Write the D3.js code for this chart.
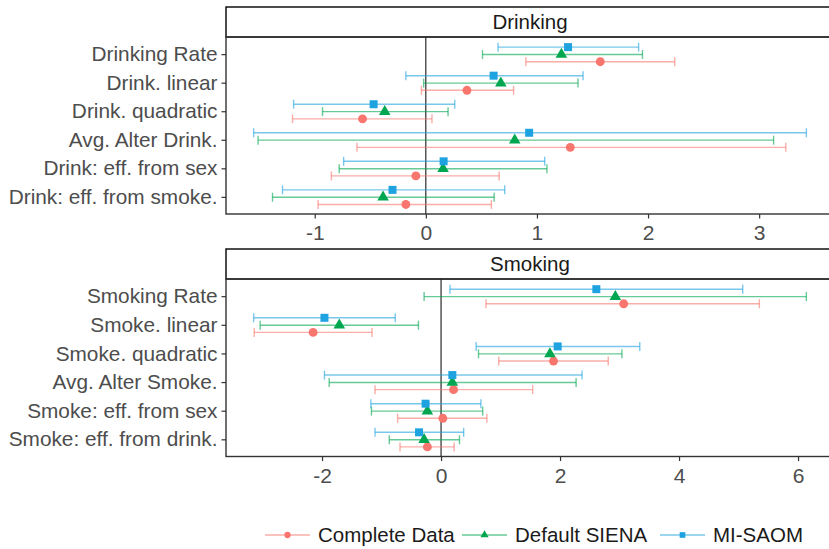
<!DOCTYPE html>
<html>
<head>
<meta charset="utf-8">
<script src="https://cdn.jsdelivr.net/npm/d3@7"></script>
<style>
body { margin: 0; background: #fff; }
text { font-family: "Liberation Sans", Arial, sans-serif; }
</style>
</head>
<body>
<script>
// categories, top to bottom
var drinkTerms = ["Drinking Rate", "Drink. linear", "Drink. quadratic", "Avg. Alter Drink.", "Drink: eff. from sex", "Drink: eff. from smoke."];
var smokeTerms = ["Smoking Rate", "Smoke. linear", "Smoke. quadratic", "Avg. Alter Smoke.", "Smoke: eff. from sex", "Smoke: eff. from drink."];
var methods = ["Complete Data", "Default SIENA", "MI-SAOM"];

// [estimate, lower, upper] per term
var drinkComplete = [[1.57, 0.90, 2.24], [0.37, -0.04, 0.79], [-0.57, -1.20, 0.055], [1.30, -0.62, 3.24], [-0.09, -0.85, 0.66], [-0.18, -0.97, 0.59]];
var drinkDefault  = [[1.22, 0.51, 1.95], [0.675, -0.02, 1.37], [-0.37, -0.93, 0.20], [0.80, -1.51, 3.13], [0.155, -0.78, 1.09], [-0.385, -1.38, 0.615]];
var drinkMI       = [[1.28, 0.65, 1.915], [0.61, -0.18, 1.415], [-0.47, -1.19, 0.26], [0.93, -1.55, 3.425], [0.16, -0.74, 1.07], [-0.30, -1.29, 0.71]];

var smokeComplete = [[3.07, 0.755, 5.35], [-2.15, -3.14, -1.16], [1.89, 0.97, 2.81], [0.21, -1.11, 1.54], [0.03, -0.73, 0.77], [-0.23, -0.69, 0.22]];
var smokeDefault  = [[2.93, -0.285, 6.14], [-1.71, -3.04, -0.38], [1.83, 0.63, 3.04], [0.19, -1.88, 2.27], [-0.23, -1.17, 0.70], [-0.285, -0.87, 0.31]];
var smokeMI       = [[2.61, 0.15, 5.07], [-1.96, -3.15, -0.77], [1.96, 0.59, 3.34], [0.19, -1.96, 2.37], [-0.26, -1.18, 0.67], [-0.37, -1.11, 0.38]];

var drinkTicks = [-1, 0, 1, 2, 3];
var smokeTicks = [-2, 0, 2, 4, 6];

var colors = ["#F8766D", "#00A650", "#1FA3E0"];
var shapes = [d3.symbolCircle, d3.symbolTriangle, d3.symbolSquare];
var shapeSize = [62, 58, 64];
var dodge = [7.6, 0.4, -7.0];

var width = 829, height = 549;
var left = 226, right = 834;

var svg = d3.select("body").append("svg").attr("width", width).attr("height", height);

function panel(title, terms, seriesList, ticks, stripTop, plotTop, plotBottom) {
	var all = [];
	seriesList.forEach(function(s){ s.forEach(function(r){ all.push(r[1], r[2]); }); });
	var lo = d3.min(all), hi = d3.max(all), pad = (hi - lo) * 0.05;
	var x = d3.scaleLinear().domain([lo - pad, hi + pad]).range([left, right]);
	var y = d3.scalePoint().domain(terms).range([plotTop, plotBottom]).padding(0.6);

	var g = svg.append("g");
	// strip
	g.append("rect").attr("x", left).attr("y", stripTop).attr("width", right - left).attr("height", plotTop - stripTop)
		.attr("fill", "#fff").attr("stroke", "#000").attr("stroke-width", 1.4);
	g.append("text").attr("x", (left + right) / 2).attr("y", (stripTop + plotTop) / 2).attr("dy", "0.36em")
		.attr("text-anchor", "middle").attr("font-size", "20.5px").attr("fill", "#1a1a1a").text(title);

	// zero line
	g.append("line").attr("x1", x(0)).attr("x2", x(0)).attr("y1", plotTop).attr("y2", plotBottom)
		.attr("stroke", "#000").attr("stroke-width", 1);

	// error bars + points
	seriesList.forEach(function(s, j){
		var sg = g.append("g");
		var rows = sg.selectAll("g.row").data(s).enter().append("g").attr("class", "row")
			.attr("transform", function(d, i){ return "translate(0," + (y(terms[i]) + dodge[j]) + ")"; });
		rows.append("line").attr("x1", function(d){ return x(d[1]); }).attr("x2", function(d){ return x(d[2]); })
			.attr("stroke", colors[j]).attr("stroke-opacity", 0.6).attr("stroke-width", 1.4);
		rows.append("line").attr("x1", function(d){ return x(d[1]); }).attr("x2", function(d){ return x(d[1]); })
			.attr("y1", -4.5).attr("y2", 4.5).attr("stroke", colors[j]).attr("stroke-opacity", 0.6).attr("stroke-width", 1.4);
		rows.append("line").attr("x1", function(d){ return x(d[2]); }).attr("x2", function(d){ return x(d[2]); })
			.attr("y1", -4.5).attr("y2", 4.5).attr("stroke", colors[j]).attr("stroke-opacity", 0.6).attr("stroke-width", 1.4);
		rows.append("path").attr("d", d3.symbol().type(shapes[j]).size(shapeSize[j]))
			.attr("transform", function(d){ return "translate(" + x(d[0]) + ",0)"; })
			.attr("fill", colors[j]);
	});

	// panel border
	g.append("rect").attr("x", left).attr("y", plotTop).attr("width", right - left).attr("height", plotBottom - plotTop)
		.attr("fill", "none").attr("stroke", "#333").attr("stroke-width", 1.4);

	// axes
	var xa = g.append("g").attr("transform", "translate(0," + plotBottom + ")")
		.call(d3.axisBottom(x).tickValues(ticks).tickSize(4.5).tickPadding(7).tickFormat(function(d){ return String(d); }));
	xa.select(".domain").remove();
	xa.selectAll("line").attr("stroke", "#333").attr("stroke-width", 1.2);
	xa.selectAll("text").attr("font-size", "21px").attr("fill", "#4d4d4d").attr("font-family", "Liberation Sans, Arial, sans-serif");

	var ya = g.append("g").attr("transform", "translate(" + left + ",0)")
		.call(d3.axisLeft(y).tickSize(4.5).tickPadding(4));
	ya.select(".domain").remove();
	ya.selectAll("line").attr("stroke", "#333").attr("stroke-width", 1.2);
	ya.selectAll("text").attr("font-size", "20.8px").attr("fill", "#4d4d4d").attr("font-family", "Liberation Sans, Arial, sans-serif");
}

panel("Drinking", drinkTerms, [drinkComplete, drinkDefault, drinkMI], drinkTicks, 7, 37, 214);
panel("Smoking", smokeTerms, [smokeComplete, smokeDefault, smokeMI], smokeTicks, 249, 279, 456.5);

// legend
var legX = [265, 462, 660];
var leg = svg.append("g").attr("transform", "translate(0,535)");
methods.forEach(function(m, j){
	var lg = leg.append("g").attr("transform", "translate(" + legX[j] + ",0)");
	lg.append("line").attr("x1", 0).attr("x2", 45).attr("stroke", colors[j]).attr("stroke-opacity", 0.6).attr("stroke-width", 1.4);
	lg.append("path").attr("d", d3.symbol().type(shapes[j]).size(shapeSize[j] * 0.5))
		.attr("transform", "translate(22.5,0)").attr("fill", colors[j]);
	lg.append("text").attr("x", 53).attr("dy", "0.36em").attr("font-size", "20.5px").attr("fill", "#1a1a1a").text(m);
});
</script>
</body>
</html>
